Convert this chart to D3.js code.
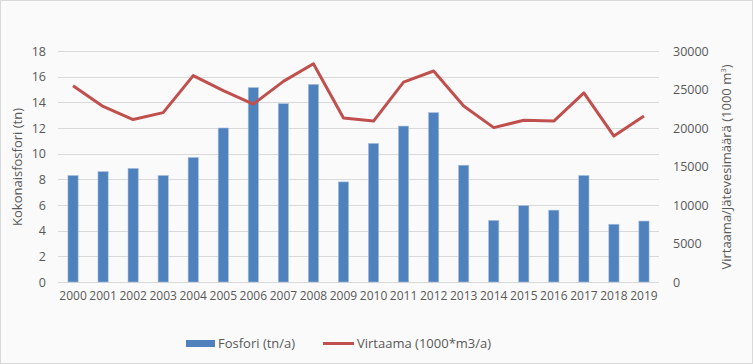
<!DOCTYPE html>
<html>
<head>
<meta charset="utf-8">
<script src="https://cdn.jsdelivr.net/npm/d3@7"></script>
<style>
  body { margin: 0; background: #fff; }
  text { font-family: "Open Sans", sans-serif; fill: #595959; }
</style>
</head>
<body>
<div id="chart"></div>
<script>
// data
var years = ["2000","2001","2002","2003","2004","2005","2006","2007","2008","2009",
             "2010","2011","2012","2013","2014","2015","2016","2017","2018","2019"];
var fosfori = [8.3, 8.6, 8.85, 8.3, 9.7, 12.0, 15.15, 13.9, 15.4, 7.8,
               10.8, 12.15, 13.2, 9.1, 4.8, 5.95, 5.6, 8.3, 4.5, 4.75];
var virtaama = [25500, 22800, 21100, 22000, 26800, 24850, 23100, 26050, 28350, 21300,
                20900, 25950, 27400, 22850, 20050, 21000, 20900, 24550, 18950, 21550];
var leftTicks = [0, 2, 4, 6, 8, 10, 12, 14, 16, 18];
var rightTicks = [0, 5000, 10000, 15000, 20000, 25000, 30000];

var barColor = "#4f81bd";
var lineColor = "#c0504d";

var width = 753, height = 364;
var margin = {left: 58, right: 94, top: 51, bottom: 82};

var svg = d3.select("#chart").append("svg")
    .attr("width", width).attr("height", height);

// background + frame
svg.append("rect")
    .attr("x", 0.5).attr("y", 0.5)
    .attr("width", width - 1).attr("height", height - 1)
    .attr("fill", "#fafafa").attr("stroke", "#d9d9d9");

var x = d3.scaleBand().domain(years)
    .range([margin.left, width - margin.right])
    .paddingInner(0.66).paddingOuter(0.33);
var yL = d3.scaleLinear().domain([0, 18]).range([height - margin.bottom, margin.top]);
var yR = d3.scaleLinear().domain([0, 30000]).range([height - margin.bottom, margin.top]);

// gridlines
svg.append("g").selectAll("line").data(leftTicks).enter().append("line")
    .attr("x1", margin.left).attr("x2", width - margin.right)
    .attr("y1", function(d){ return Math.round(yL(d)) + 0.5; })
    .attr("y2", function(d){ return Math.round(yL(d)) + 0.5; })
    .attr("stroke", "#d9d9d9").attr("stroke-width", 1);

// bars
svg.append("g").selectAll("rect").data(fosfori).enter().append("rect")
    .attr("x", function(d, i){ return x(years[i]); })
    .attr("width", x.bandwidth())
    .attr("y", function(d){ return yL(d); })
    .attr("height", function(d){ return yL(0) - yL(d); })
    .attr("fill", barColor)
    .attr("stroke", "#a9c0de").attr("stroke-width", 0.6);

// line
var line = d3.line()
    .x(function(d, i){ return x(years[i]) + x.bandwidth() / 2; })
    .y(function(d){ return yR(d); });
svg.append("path").datum(virtaama)
    .attr("d", line)
    .attr("fill", "none")
    .attr("stroke", lineColor)
    .attr("stroke-width", 3)
    .attr("stroke-linejoin", "round");

// left axis
var axL = svg.append("g")
    .attr("transform", "translate(" + (margin.left - 12) + ",0)")
    .call(d3.axisLeft(yL).tickValues(leftTicks).tickSize(0).tickPadding(0));
axL.select(".domain").remove();
axL.selectAll("text").style("font-size", "12.5px").attr("fill", "#595959")
    .style("font-family", "'Open Sans', sans-serif");

// right axis
var axR = svg.append("g")
    .attr("transform", "translate(" + (width - margin.right + 14) + ",0)")
    .call(d3.axisRight(yR).tickValues(rightTicks).tickSize(0).tickPadding(0)
      .tickFormat(d3.format("d")));
axR.select(".domain").remove();
axR.selectAll("text").style("font-size", "12.5px").attr("fill", "#595959")
    .style("font-family", "'Open Sans', sans-serif");

// x axis
var axX = svg.append("g")
    .attr("transform", "translate(0," + (height - margin.bottom + 9) + ")")
    .call(d3.axisBottom(x).tickSize(0).tickPadding(0));
axX.select(".domain").remove();
axX.selectAll("text").style("font-size", "12px").attr("fill", "#595959")
    .style("font-family", "'Open Sans', sans-serif");

// axis titles
svg.append("text")
    .attr("transform", "translate(22,167) rotate(-90)")
    .attr("text-anchor", "middle")
    .style("font-size", "13px")
    .text("Kokonaisfosfori (tn)");

var rt = svg.append("text")
    .attr("transform", "translate(731,167) rotate(-90)")
    .attr("text-anchor", "middle")
    .style("font-size", "13px");
rt.append("tspan").text("Virtaama/Jätevesimäärä (1000 m");
rt.append("tspan").attr("dy", -5).style("font-size", "8px").text("3");
rt.append("tspan").attr("dy", 5).text(")");

// legend
var lg = svg.append("g");
lg.append("rect")
    .attr("x", 186).attr("y", 340).attr("width", 29).attr("height", 7)
    .attr("fill", barColor);
lg.append("text").attr("x", 218).attr("y", 348)
    .style("font-size", "13px").text("Fosfori (tn/a)");
lg.append("line")
    .attr("x1", 323).attr("x2", 354).attr("y1", 343.5).attr("y2", 343.5)
    .attr("stroke", lineColor).attr("stroke-width", 3);
lg.append("text").attr("x", 357).attr("y", 348)
    .style("font-size", "13px").text("Virtaama (1000*m3/a)");
</script>
</body>
</html>
